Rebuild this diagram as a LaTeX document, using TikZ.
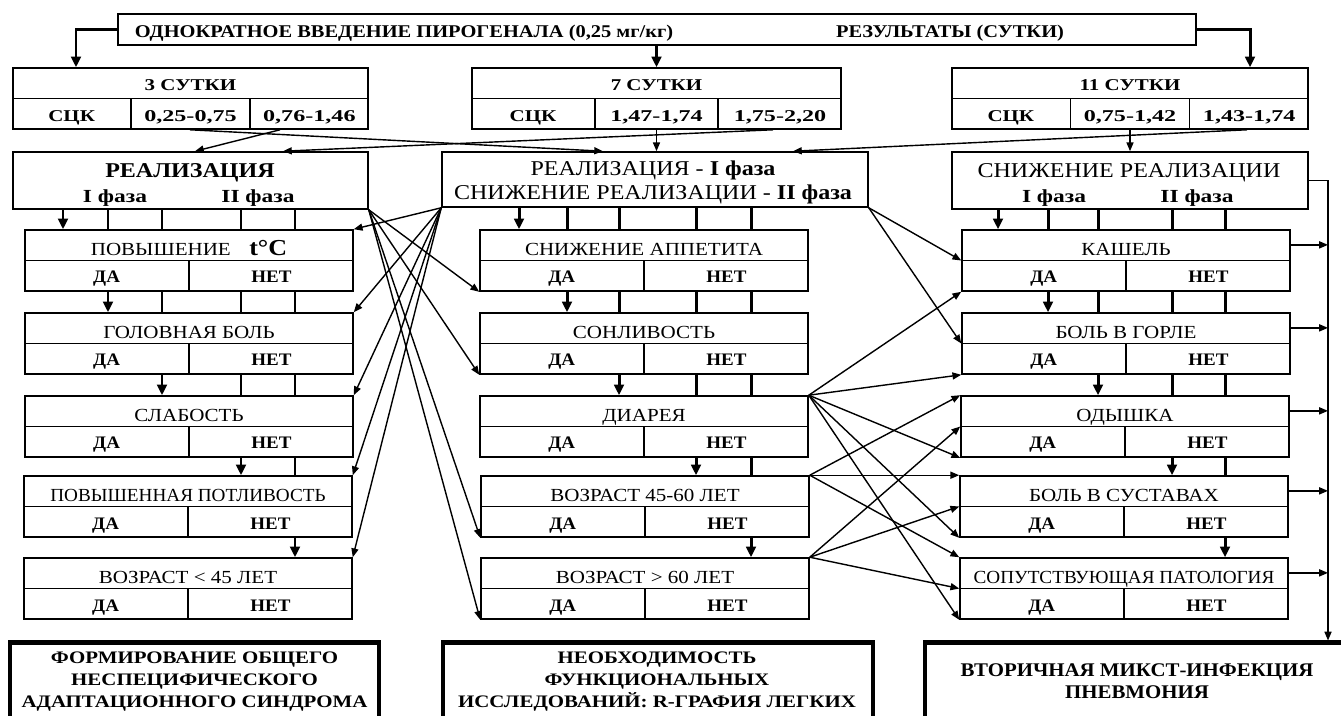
\documentclass[tikz,border=0pt]{standalone}
\usepackage{fontspec}
\setmainfont{Liberation Serif}[FakeStretch=1.14]
\newfontfamily\wideA{Liberation Serif}[FakeStretch=1.27]
\newfontfamily\wideB{Liberation Serif}[FakeStretch=1.46]
\newfontfamily\wideC{Liberation Serif}[FakeStretch=1.19]
\newfontfamily\slimA{Liberation Serif}[FakeStretch=1.04]
\newfontfamily\slimB{Liberation Serif}[FakeStretch=1.08]
\usetikzlibrary{arrows.meta,calc,backgrounds}

\newcommand\fsz[1]{\fontsize{#1}{#1}\selectfont}

\tikzset{
  frame/.style={draw, line width=0.9pt, fill=white, inner sep=0pt},
  bigframe/.style={draw, line width=2.3pt, fill=white, inner sep=0pt},
  conn/.style={line width=0.8pt, -{Triangle[length=5pt,width=4pt]}},
  ladline/.style={line width=1.7pt},
  ladarr/.style={line width=1.7pt, -{Triangle[length=6pt,width=5.5pt]}},
  lbl/.style={inner sep=0pt, anchor=base},
  hdr/.style={lbl, font=\fsz{10.5}},
  yn/.style={lbl, font=\slimB\bfseries\fsz{10}},
  cellt/.style={lbl, font=\wideA\bfseries\fsz{9.4}},
  cellv/.style={lbl, font=\wideB\bfseries\fsz{9.4}},
  phase/.style={lbl, font=\wideA\bfseries\fsz{10.5}},
  outtxt/.style={align=center, inner sep=0pt},
}

% a symptom box: title row above, ДА | НЕТ row below
\newcommand\rowbox[4]{%
  \node[frame, minimum width=6.56cm, minimum height=1.22cm] (#1) at (#2,#3) {};
  \draw[line width=0.9pt] (#1.west) -- (#1.east) (#1.center) -- (#1.south);
  \node[hdr, yshift=0.11cm] (#1-h) at (#1.center) {#4};
  \node[yn, yshift=-0.45cm] (#1-y) at ($(#1.west)!0.25!(#1.east)$) {ДА};
  \node[yn, yshift=-0.45cm] (#1-n) at ($(#1.west)!0.75!(#1.east)$) {НЕТ};
}

% a day table: title row, then СЦК and two ranges
\newcommand\daybox[7]{%
  \node[frame, minimum width=#3*0.02cm, minimum height=1.22cm] (#1) at (#2,98.5) {};
  \draw[line width=0.9pt] (#1.west) -- (#1.east)
    ($(#1.west)!0.3333!(#1.east)$) -- ($(#1.south west)!0.3333!(#1.south east)$)
    ($(#1.west)!0.6667!(#1.east)$) -- ($(#1.south west)!0.6667!(#1.south east)$);
  \node[cellt, yshift=0.15cm] (#1-t) at (#1.center) {#4};
  \node[cellt, yshift=-0.47cm] (#1-a) at ($(#1.west)!0.1667!(#1.east)$) {#5};
  \node[cellv, yshift=-0.47cm] (#1-b) at ($(#1.west)!0.5!(#1.east)$) {#6};
  \node[cellv, yshift=-0.47cm] (#1-c) at ($(#1.west)!0.8333!(#1.east)$) {#7};
}

% thick ladder between a column's boxes: one arrow per gap, the remaining bars pass on
\newcommand\ladder[2]{%
  \foreach \ua/\da [count=\k] in {#1} {
    \foreach \lx [count=\i] in {#2} {
      \ifnum\i=\k\relax
        \draw[ladarr] (\lx,0 |- \ua.south) -- (\lx,0 |- \da.north);
      \else\ifnum\i>\k\relax
        \draw[ladline] (\lx,0 |- \ua.south) -- (\lx,0 |- \da.north);
      \fi\fi
    }
  }
}

\begin{document}
\begin{tikzpicture}[x=0.02cm, y=-0.02cm]
\clip (0,0) rectangle (1341,716);
\fill[white] (0,0) rectangle (1341,716);

% ---------- heading ----------
\node[frame, minimum width=21.56cm, minimum height=0.62cm] (top) at (657,29.5) {};
\node[lbl, font=\bfseries\fsz{10.2}] (topL) at (404,38) {ОДНОКРАТНОЕ ВВЕДЕНИЕ ПИРОГЕНАЛА (0,25 мг/кг)};
\node[lbl, font=\bfseries\fsz{10.2}] (topR) at (950,38) {РЕЗУЛЬТАТЫ (СУТКИ)};

% ---------- day tables ----------
\daybox{d3}{190.5}{355}{3 СУТКИ}{СЦК}{0,25-0,75}{0,76-1,46}
\daybox{d7}{656.5}{369}{7 СУТКИ}{СЦК}{1,47-1,74}{1,75-2,20}
\daybox{d11}{1130}{356}{11 СУТКИ}{СЦК}{0,75-1,42}{1,43-1,74}

\draw[ladarr] (top.west) -| (76,0 |- d3.north);
\draw[ladarr] (d7.north |- top.south) -- (d7.north);
\draw[ladarr] (top.east) -| (1250,0 |- d11.north);

% ---------- phase boxes ----------
\node[frame, minimum width=7.1cm, minimum height=1.14cm] (realL) at (190.5,180.5) {};
\node[lbl, font=\bfseries\fsz{12}] (realL-t) at (190,177) {РЕАЛИЗАЦИЯ};
\node[phase] (realL-1) at (115,202) {I фаза};
\node[phase] (realL-2) at (258,202) {II фаза};

\node[frame, minimum width=8.52cm, minimum height=1.1cm] (realM) at (655,179.5) {};
\node[lbl, font=\fsz{12}] (realM-1) at (653,175) {РЕАЛИЗАЦИЯ - \textbf{I фаза}};
\node[lbl, font=\fsz{12}] (realM-2) at (653,199) {СНИЖЕНИЕ РЕАЛИЗАЦИИ - \textbf{II фаза}};

\node[frame, minimum width=7.12cm, minimum height=1.14cm] (realR) at (1130,180.5) {};
\node[lbl, font=\fsz{12}] (realR-t) at (1129,177) {СНИЖЕНИЕ РЕАЛИЗАЦИИ};
\node[phase] (realR-1) at (1054,202) {I фаза};
\node[phase] (realR-2) at (1197,202) {II фаза};

\draw[conn] (280,0 |- d3.south) -- (195,0 |- realL.north);
\draw[conn] (190,0 |- d3.south) -- (603,0 |- realM.north);
\draw[conn] (d7.south) -- (d7.south |- realM.north);
\draw[conn] (773,0 |- d7.south) -- (283,0 |- realL.north);
\draw[conn] (d11.south) -- (realR.north);
\draw[conn] (1247,0 |- d11.south) -- (793,0 |- realM.north);

% ---------- symptom columns ----------
\rowbox{povL}{189}{260.5}{ПОВЫШЕНИЕ\quad\textbf{\fsz{13}t°C}}
\rowbox{golL}{189}{343.5}{ГОЛОВНАЯ БОЛЬ}
\rowbox{slabL}{189}{426.5}{СЛАБОСТЬ}
\rowbox{potlL}{188}{506.5}{\slimA ПОВЫШЕННАЯ ПОТЛИВОСТЬ}
\rowbox{vozL}{188}{588.5}{ВОЗРАСТ < 45 ЛЕТ}

\rowbox{appM}{644}{260.5}{СНИЖЕНИЕ АППЕТИТА}
\rowbox{sonM}{644}{343.5}{СОНЛИВОСТЬ}
\rowbox{diaM}{644}{426.5}{ДИАРЕЯ}
\rowbox{vozM}{645}{506.5}{ВОЗРАСТ 45-60 ЛЕТ}
\rowbox{oldM}{645}{588.5}{ВОЗРАСТ > 60 ЛЕТ}

\rowbox{kasR}{1126}{260.5}{КАШЕЛЬ}
\rowbox{gorR}{1126}{343.5}{БОЛЬ В ГОРЛЕ}
\rowbox{odyR}{1125}{426.5}{ОДЫШКА}
\rowbox{susR}{1124}{506.5}{БОЛЬ В СУСТАВАХ}
\rowbox{patR}{1124}{588.5}{\slimA СОПУТСТВУЮЩАЯ ПАТОЛОГИЯ}

\ladder{realL/povL, povL/golL, golL/slabL, slabL/potlL, potlL/vozL}{63,108,162,241,295}
\ladder{realM/appM, appM/sonM, sonM/diaM, diaM/vozM, vozM/oldM}{519,567,619,696,751}
\ladder{realR/kasR, kasR/gorR, gorR/odyR, odyR/susR, susR/patR}{998,1048,1098,1172,1225}

% ---------- links from the right phase box run behind the middle column ----------
\begin{pgfonlayer}{background}
  \foreach \b in {povL,golL,slabL,potlL,vozL}
    \draw[conn] (realR.south west) -- (\b.south east);
\end{pgfonlayer}

\foreach \b in {povL,golL,slabL,potlL,vozL}
  \draw[conn] (realM.south west) -- (\b.north east);
\foreach \b in {appM,sonM,vozM,oldM}
  \draw[conn] (realL.south east) -- (\b.south west);

\draw[conn] (realM.south east) -- (kasR.west);
\draw[conn] (realM.south east) -- (gorR.west);
\foreach \b in {kasR,gorR,odyR,susR,patR}
  \draw[conn] (diaM.north east) -- (\b.south west);
\foreach \b in {odyR,susR,patR} {
  \draw[conn] (vozM.north east) -- (\b.north west);
  \draw[conn] (oldM.north east) -- (\b.west);
}

% ---------- conclusions ----------
\node[bigframe, minimum width=7.38cm, minimum height=1.9cm] (outL) at (194.5,690) {};
\node[outtxt, font=\wideC\bfseries\fontsize{10}{12.6}\selectfont] (outL-t) at (194.5,681.5)
  {ФОРМИРОВАНИЕ ОБЩЕГО\\НЕСПЕЦИФИЧЕСКОГО\\АДАПТАЦИОННОГО СИНДРОМА};
\node[bigframe, minimum width=8.6cm, minimum height=1.9cm] (outM) at (658,690) {};
\node[outtxt, font=\wideC\bfseries\fontsize{10}{12.6}\selectfont] (outM-t) at (657,681.5)
  {НЕОБХОДИМОСТЬ\\ФУНКЦИОНАЛЬНЫХ\\ИССЛЕДОВАНИЙ: R-ГРАФИЯ ЛЕГКИХ};
\node[bigframe, minimum width=8.5cm, minimum height=1.9cm] (outR) at (1137,690) {};
\node[outtxt, font=\slimB\bfseries\fontsize{11}{12.6}\selectfont] (outR-t) at (1137,681)
  {ВТОРИЧНАЯ МИКСТ-ИНФЕКЦИЯ\\ПНЕВМОНИЯ};

% ---------- collecting bus on the right ----------
\coordinate (busT) at (1328,0 |- realR.east);
\draw[line width=0.9pt] (realR.east) -- (busT);
\draw[conn] (busT) -- (busT |- outR.north);
\foreach \b in {kasR,gorR,odyR,susR,patR}
  \draw[conn] ($(\b.north east)!0.25!(\b.south east)$) coordinate (\b-o) -- (busT |- \b-o);

\end{tikzpicture}
\end{document}
